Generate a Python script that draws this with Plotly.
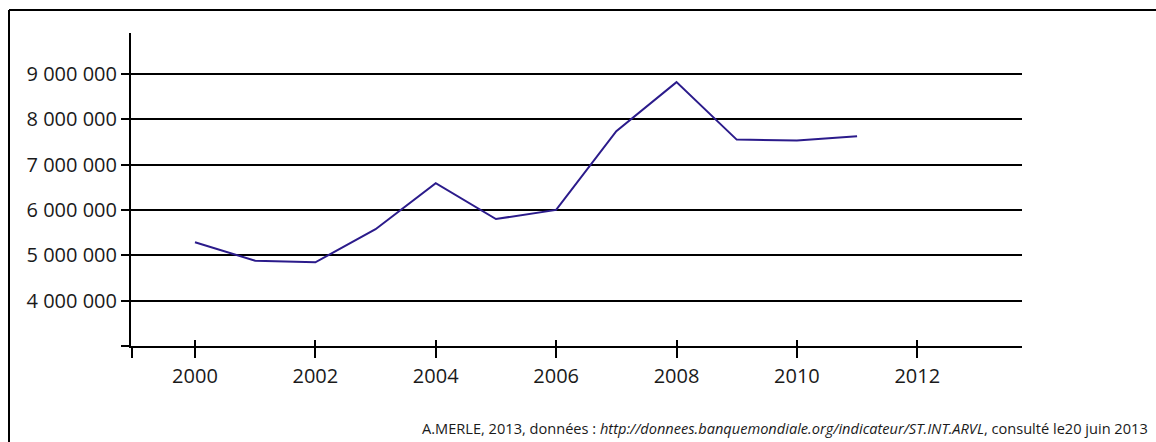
import plotly.graph_objects as go

years = [2000, 2001, 2002, 2003, 2004, 2005, 2006, 2007, 2008, 2009, 2010, 2011]
arrivals = [5287000, 4880000, 4845000, 5574000, 6590000, 5800000, 6000000,
            7735000, 8817000, 7550000, 7530000, 7625000]
y_tick_vals = [3000000, 4000000, 5000000, 6000000, 7000000, 8000000, 9000000]
y_tick_text = ["", "4 000 000", "5 000 000", "6 000 000", "7 000 000", "8 000 000", "9 000 000"]
x_tick_vals = [2000, 2002, 2004, 2006, 2008, 2010, 2012]
x_tick_text = ["2000", "2002", "2004", "2006", "2008", "2010", "2012"]
source_text = ("A.MERLE, 2013, données : <i>http://donnees.banquemondiale.org/indicateur/ST.INT.ARVL</i>"
               ", consulté le20 juin 2013")

W, H = 1156, 442
L, R, T, B = 131, 134, 33, 96
X0, X1 = 1998.937, 2013.74
Y0, Y1 = 3000000, 9900000

fig = go.Figure()
fig.add_trace(go.Scatter(x=years, y=arrivals, mode="lines",
                         line=dict(color="#2b1b8b", width=2), showlegend=False,
                         hoverinfo="skip"))

font = dict(family="Open Sans, sans-serif", size=20, color="#1a1a1a")

fig.update_layout(
    width=W, height=H,
    margin=dict(l=L, r=R, t=T, b=B),
    paper_bgcolor="white", plot_bgcolor="white",
    xaxis=dict(range=[X0, X1], tickvals=[X0 + 0.01] + x_tick_vals, ticktext=[""] + x_tick_text,
               ticks="outside", ticklen=10, tickwidth=2, tickcolor="black",
               showline=True, linecolor="black", linewidth=2,
               showgrid=False, zeroline=False, tickfont=font,
               ticklabelstandoff=1),
    xaxis2=dict(range=[X0, X1], matches="x", overlaying="x", anchor="y",
                side="bottom", tickvals=x_tick_vals, showticklabels=False,
                ticks="inside", ticklen=6, tickwidth=2, tickcolor="black",
                showline=False, showgrid=False, zeroline=False),
    yaxis=dict(range=[Y0, Y1], tickvals=y_tick_vals, ticktext=y_tick_text,
               ticks="outside", ticklen=8, tickwidth=2, tickcolor="black",
               showline=True, linecolor="black", linewidth=2,
               showgrid=True, gridcolor="black", gridwidth=2,
               zeroline=False, tickfont=font),
)
# invisible trace to activate xaxis2
fig.add_trace(go.Scatter(x=[X0], y=[Y0], xaxis="x2", mode="markers",
                         marker=dict(opacity=0), showlegend=False, hoverinfo="skip"))

pw = W - L - R
ph = H - T - B
def px(xp):
    return (xp - L) / pw
def py(yp):
    return (H - B - yp) / ph

# frame (left and top borders)
fig.add_shape(type="line", xref="paper", yref="paper",
              x0=px(9), x1=px(9), y0=py(10), y1=py(H + 5),
              line=dict(color="black", width=2))
fig.add_shape(type="line", xref="paper", yref="paper",
              x0=px(9), x1=px(W + 5), y0=py(10), y1=py(10),
              line=dict(color="black", width=2))

fig.add_annotation(text=source_text, xref="paper", yref="paper",
                   x=px(1150), y=py(428), xanchor="right", yanchor="middle",
                   showarrow=False,
                   font=dict(family="Open Sans, sans-serif",
                             size=14.6, color="#1a1a1a"))

fig.write_html("out.html", config={"displayModeBar": False},
               post_script="document.body.style.margin='0';document.body.style.overflow='hidden';")
